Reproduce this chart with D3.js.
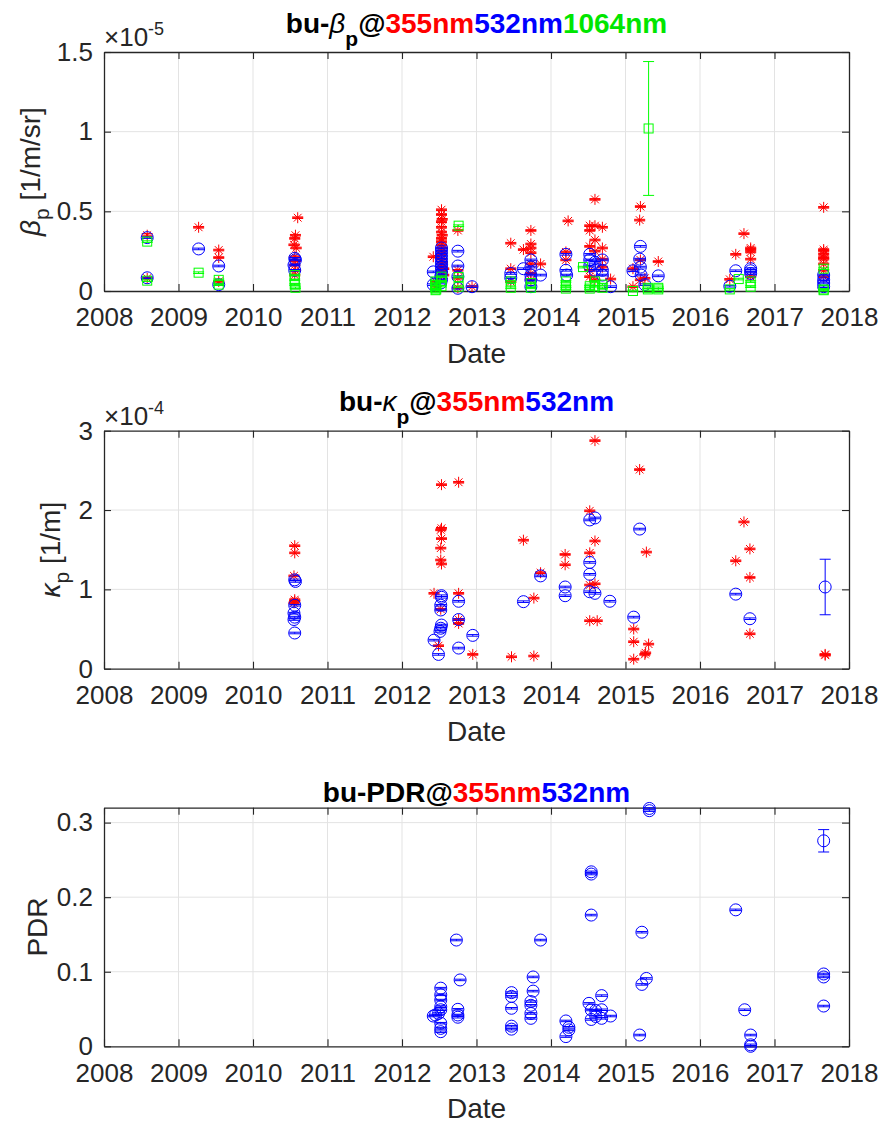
<!DOCTYPE html>
<html>
<head>
<meta charset="utf-8">
<script src="https://cdn.jsdelivr.net/npm/d3@7"></script>
<style>
  body { margin: 0; background: #fff; }
  svg { display: block; }
  text { font-family: Arial, "Liberation Sans", Helvetica, sans-serif; }
</style>
</head>
<body>
<svg id="fig" width="881" height="1126"></svg>
<script>
// ---- x axis (decimal years) ----
const yearTicks = [2008, 2009, 2010, 2011, 2012, 2013, 2014, 2015, 2016, 2017, 2018];

// ---- backscatter coefficient β_p, units of 1e-5 1/m/sr : [year, value, half error] ----
const beta355 = [
  [2008.58,0.35,0.01],[2008.58,0.08,0.005],
  [2009.27,0.40,0.005],
  [2009.54,0.257,0.005],[2009.54,0.21,0.005],[2009.54,0.06,0.005],
  [2010.60,0.46,0.005],[2010.57,0.35,0.005],[2010.56,0.33,0.005],[2010.55,0.29,0.005],[2010.58,0.27,0.005],
  [2010.56,0.215,0.005],[2010.57,0.19,0.005],[2010.56,0.163,0.005],[2010.57,0.13,0.005],[2010.56,0.10,0.005],
  [2012.42,0.215,0.005],[2012.45,0.06,0.005],[2012.45,0.03,0.005],
  [2012.53,0.51,0.005],[2012.53,0.48,0.005],[2012.54,0.45,0.005],[2012.53,0.435,0.005],[2012.53,0.40,0.005],
  [2012.53,0.37,0.005],[2012.54,0.35,0.005],[2012.53,0.33,0.005],[2012.53,0.31,0.005],[2012.53,0.29,0.005],
  [2012.54,0.27,0.005],[2012.53,0.25,0.005],[2012.53,0.23,0.005],[2012.53,0.20,0.005],[2012.54,0.18,0.005],
  [2012.53,0.15,0.005],[2012.53,0.12,0.005],[2012.53,0.09,0.005],[2012.56,0.14,0.005],[2012.56,0.10,0.005],
  [2012.75,0.38,0.005],[2012.75,0.13,0.005],[2012.75,0.08,0.005],[2012.75,0.02,0.005],
  [2012.94,0.027,0.005],
  [2013.46,0.30,0.005],[2013.46,0.14,0.005],[2013.46,0.058,0.005],
  [2013.63,0.26,0.005],
  [2013.73,0.38,0.005],[2013.73,0.295,0.005],[2013.73,0.27,0.005],[2013.73,0.24,0.005],[2013.73,0.17,0.005],
  [2013.73,0.11,0.005],[2013.73,0.07,0.005],
  [2013.86,0.17,0.005],
  [2014.20,0.245,0.005],[2014.20,0.195,0.005],[2014.23,0.44,0.005],
  [2014.52,0.41,0.005],[2014.52,0.38,0.005],[2014.52,0.28,0.005],[2014.52,0.13,0.005],[2014.52,0.09,0.005],
  [2014.59,0.575,0.005],[2014.59,0.41,0.005],[2014.59,0.32,0.005],[2014.59,0.25,0.005],[2014.59,0.07,0.005],
  [2014.69,0.40,0.005],[2014.69,0.27,0.005],[2014.69,0.20,0.005],[2014.69,0.15,0.005],
  [2014.80,0.075,0.005],
  [2015.10,0.14,0.005],[2015.10,0.027,0.005],
  [2015.20,0.53,0.005],[2015.19,0.445,0.005],[2015.20,0.195,0.005],[2015.20,0.07,0.005],
  [2015.26,0.08,0.005],[2015.44,0.185,0.005],
  [2016.40,0.073,0.005],[2016.48,0.23,0.005],[2016.59,0.36,0.005],
  [2016.68,0.27,0.005],[2016.68,0.26,0.005],[2016.68,0.245,0.005],[2016.68,0.20,0.005],[2016.68,0.09,0.005],
  [2017.66,0.525,0.005],[2017.66,0.26,0.005],[2017.66,0.25,0.005],[2017.66,0.23,0.005],[2017.66,0.21,0.005],
  [2017.66,0.20,0.005],[2017.66,0.17,0.005],[2017.66,0.13,0.005],[2017.66,0.09,0.005]
];
const beta532 = [
  [2008.58,0.335,0.005],[2008.58,0.083,0.005],
  [2009.27,0.264,0.005],
  [2009.54,0.157,0.005],[2009.54,0.04,0.005],
  [2010.56,0.205,0.005],[2010.57,0.195,0.005],[2010.55,0.163,0.005],[2010.56,0.13,0.005],
  [2012.42,0.12,0.005],[2012.42,0.04,0.005],
  [2012.53,0.27,0.005],[2012.53,0.25,0.005],[2012.53,0.23,0.005],[2012.53,0.21,0.005],[2012.53,0.19,0.005],
  [2012.53,0.17,0.005],[2012.53,0.15,0.005],[2012.53,0.13,0.005],[2012.53,0.11,0.005],[2012.52,0.09,0.005],
  [2012.53,0.07,0.005],[2012.52,0.05,0.005],
  [2012.75,0.25,0.005],[2012.75,0.157,0.005],[2012.75,0.09,0.005],[2012.75,0.017,0.005],
  [2012.94,0.027,0.005],
  [2013.46,0.11,0.005],[2013.46,0.083,0.005],
  [2013.63,0.14,0.005],
  [2013.73,0.195,0.005],[2013.73,0.15,0.005],[2013.73,0.10,0.005],[2013.73,0.07,0.005],[2013.73,0.027,0.005],
  [2013.86,0.10,0.005],
  [2014.20,0.23,0.005],[2014.20,0.13,0.005],[2014.21,0.10,0.005],
  [2014.52,0.23,0.005],[2014.52,0.195,0.005],[2014.52,0.157,0.005],
  [2014.59,0.18,0.005],[2014.59,0.13,0.005],
  [2014.69,0.195,0.005],[2014.69,0.13,0.005],[2014.69,0.10,0.005],
  [2014.80,0.027,0.005],
  [2015.10,0.127,0.005],
  [2015.20,0.28,0.005],[2015.19,0.20,0.005],[2015.20,0.15,0.005],[2015.21,0.10,0.005],
  [2015.26,0.04,0.005],[2015.44,0.095,0.005],
  [2016.40,0.03,0.005],[2016.48,0.127,0.005],
  [2016.68,0.14,0.005],[2016.68,0.127,0.005],[2016.68,0.11,0.005],
  [2017.66,0.10,0.005],[2017.66,0.07,0.005],[2017.66,0.05,0.005],[2017.66,0.027,0.005]
];
const beta1064 = [
  [2008.58,0.31,0.005],[2008.58,0.065,0.005],
  [2009.27,0.115,0.005],
  [2009.54,0.07,0.005],[2009.54,0.04,0.005],
  [2010.56,0.10,0.005],[2010.56,0.07,0.005],[2010.56,0.04,0.005],[2010.57,0.02,0.005],
  [2012.45,0.06,0.005],[2012.45,0.04,0.005],[2012.45,0.02,0.005],[2012.46,0.01,0.005],[2012.45,0.005,0.005],
  [2012.53,0.09,0.005],[2012.53,0.06,0.005],[2012.53,0.03,0.005],
  [2012.76,0.41,0.005],[2012.76,0.088,0.005],[2012.76,0.027,0.005],
  [2013.46,0.06,0.005],[2013.46,0.02,0.005],
  [2013.73,0.05,0.005],[2013.73,0.02,0.005],
  [2014.20,0.06,0.005],[2014.20,0.03,0.005],[2014.20,0.015,0.005],
  [2014.43,0.15,0.005],
  [2014.52,0.03,0.005],[2014.52,0.015,0.005],
  [2014.59,0.06,0.005],[2014.59,0.03,0.005],
  [2014.69,0.04,0.005],[2014.69,0.02,0.005],
  [2015.10,0.0,0.005],
  [2015.31,1.02,0.42],
  [2015.30,0.02,0.005],[2015.30,0.01,0.005],
  [2015.44,0.02,0.005],[2015.44,0.01,0.005],
  [2016.40,0.01,0.005],[2016.52,0.075,0.005],
  [2016.68,0.06,0.005],[2016.68,0.027,0.005],
  [2017.66,0.14,0.005],[2017.66,0.01,0.005],[2017.66,0.005,0.005]
];

// ---- extinction coefficient κ_p, units of 1e-4 1/m ----
const kappa355 = [
  [2010.56,1.55,0.01],[2010.56,1.46,0.01],[2010.55,1.17,0.01],[2010.56,0.87,0.01],[2010.56,0.85,0.01],[2010.55,0.83,0.01],
  [2012.43,0.95,0.01],[2012.49,0.29,0.01],
  [2012.53,2.32,0.01],[2012.53,1.77,0.01],[2012.52,1.75,0.01],[2012.53,1.64,0.01],[2012.52,1.52,0.01],
  [2012.52,1.37,0.01],[2012.53,1.32,0.01],[2012.52,0.75,0.01],
  [2012.76,2.35,0.01],[2012.76,0.95,0.01],[2012.76,0.62,0.01],[2012.76,0.57,0.01],
  [2012.95,0.18,0.01],[2013.47,0.15,0.01],[2013.63,1.62,0.01],
  [2013.77,0.89,0.01],[2013.77,0.16,0.01],[2013.86,1.21,0.01],
  [2014.19,1.44,0.01],[2014.19,1.31,0.01],
  [2014.52,1.99,0.01],[2014.52,1.46,0.01],[2014.52,1.055,0.01],[2014.52,0.605,0.01],
  [2014.59,2.875,0.01],[2014.59,1.61,0.01],[2014.59,1.07,0.01],[2014.62,0.605,0.01],
  [2015.11,0.50,0.01],[2015.11,0.34,0.01],[2015.11,0.12,0.01],
  [2015.19,2.51,0.01],[2015.26,0.18,0.01],[2015.28,1.47,0.01],[2015.31,0.31,0.01],[2015.27,0.20,0.01],
  [2016.48,1.36,0.01],[2016.59,1.85,0.01],
  [2016.67,1.51,0.01],[2016.67,1.15,0.01],[2016.67,0.44,0.01],
  [2017.68,0.18,0.01],[2017.68,0.17,0.01]
];
const kappa532 = [
  [2010.56,1.12,0.01],[2010.57,1.10,0.01],[2010.56,0.80,0.01],[2010.55,0.70,0.01],[2010.56,0.65,0.01],
  [2010.55,0.62,0.01],[2010.56,0.45,0.01],
  [2012.43,0.36,0.01],[2012.49,0.18,0.01],
  [2012.53,0.92,0.01],[2012.53,0.90,0.01],[2012.52,0.80,0.01],[2012.52,0.74,0.01],[2012.53,0.55,0.01],
  [2012.52,0.51,0.01],[2012.51,0.47,0.01],
  [2012.76,0.85,0.01],[2012.76,0.62,0.01],[2012.76,0.26,0.01],
  [2012.95,0.42,0.01],[2013.63,0.845,0.01],[2013.86,1.17,0.01],
  [2014.19,1.03,0.01],[2014.19,0.92,0.01],
  [2014.52,1.875,0.01],[2014.52,1.34,0.01],[2014.52,1.19,0.01],[2014.52,0.97,0.01],
  [2014.59,1.90,0.01],[2014.59,0.95,0.01],
  [2014.79,0.85,0.01],[2015.11,0.65,0.01],[2015.19,1.76,0.01],
  [2016.48,0.94,0.01],[2016.67,0.63,0.01],
  [2017.68,1.03,0.35]
];

// ---- particle depolarisation ratio ----
const pdr532 = [
  [2012.42,0.0406,0.001],[2012.45,0.042,0.001],[2012.49,0.044,0.001],
  [2012.52,0.078,0.001],[2012.52,0.069,0.001],[2012.52,0.062,0.001],[2012.52,0.053,0.001],
  [2012.52,0.049,0.001],[2012.52,0.031,0.001],[2012.52,0.024,0.001],[2012.52,0.0196,0.001],
  [2012.73,0.1425,0.001],[2012.75,0.0496,0.001],[2012.75,0.042,0.001],[2012.75,0.039,0.001],[2012.78,0.089,0.001],
  [2013.47,0.072,0.001],[2013.47,0.067,0.001],[2013.47,0.051,0.001],[2013.47,0.027,0.001],[2013.47,0.023,0.001],
  [2013.76,0.074,0.001],[2013.73,0.06,0.001],[2013.73,0.055,0.001],[2013.73,0.044,0.001],[2013.73,0.0375,0.001],
  [2013.76,0.093,0.001],[2013.86,0.1425,0.001],
  [2014.20,0.034,0.001],[2014.20,0.013,0.001],[2014.24,0.0255,0.001],[2014.24,0.022,0.001],
  [2014.54,0.234,0.001],[2014.54,0.231,0.001],[2014.54,0.176,0.001],[2014.54,0.0487,0.001],[2014.54,0.036,0.001],
  [2014.51,0.0576,0.001],[2014.60,0.048,0.001],[2014.60,0.04,0.001],
  [2014.68,0.068,0.001],[2014.68,0.049,0.001],[2014.68,0.0375,0.001],[2014.80,0.0406,0.001],
  [2015.19,0.0151,0.001],[2015.22,0.153,0.001],[2015.22,0.083,0.001],[2015.28,0.091,0.001],
  [2015.32,0.319,0.001],[2015.32,0.316,0.001],
  [2016.48,0.183,0.001],[2016.60,0.049,0.001],
  [2016.68,0.0151,0.001],[2016.68,0.002,0.001],[2016.68,0.0,0.001],
  [2017.66,0.2756,0.015],[2017.66,0.097,0.001],[2017.66,0.093,0.001],[2017.66,0.054,0.001]
];

// ---- y ticks per panel ----
const betaTicks = [0, 0.5, 1, 1.5];
const kappaTicks = [0, 1, 2, 3];
const pdrTicks = [0, 0.1, 0.2, 0.3];

const RED = "#ff0000", BLUE = "#0000ff", GREEN = "#00ff00";
const AXIS = "#262626", GRID = "#e3e3e3";

const svg = d3.select("#fig");
const x = d3.scaleLinear().domain([2008, 2018]).range([104, 849]);

function marker(g, type, cx, cy, color) {
  if (type === "o") {
    g.append("circle").attr("cx", cx).attr("cy", cy).attr("r", 6)
      .attr("fill", "none").attr("stroke", color).attr("stroke-width", 1);
  } else if (type === "s") {
    g.append("rect").attr("x", cx - 4.5).attr("y", cy - 4.5).attr("width", 9).attr("height", 9)
      .attr("fill", "none").attr("stroke", color).attr("stroke-width", 1);
  } else {
    const r = 5.5, d = 3.9;
    const p = `M${cx - r},${cy}H${cx + r}M${cx},${cy - r}V${cy + r}` +
      `M${cx - d},${cy - d}L${cx + d},${cy + d}M${cx - d},${cy + d}L${cx + d},${cy - d}`;
    g.append("path").attr("d", p).attr("fill", "none").attr("stroke", color).attr("stroke-width", 1);
  }
}

function errorbar(g, data, y, type, color) {
  data.forEach(([t, v, e]) => {
    const cx = x(t), y0 = y(v - e), y1 = y(v + e), w = 5.5;
    g.append("path")
      .attr("d", `M${cx},${y0}V${y1}M${cx - w},${y0}H${cx + w}M${cx - w},${y1}H${cx + w}`)
      .attr("fill", "none").attr("stroke", color).attr("stroke-width", 1);
    marker(g, type, cx, y(v), color);
  });
}

function panel(cfg) {
  const y = d3.scaleLinear().domain(cfg.domain).range([cfg.bottom, cfg.top]);
  const g = svg.append("g");

  // grid
  g.append("g").selectAll("line").data(yearTicks.slice(1, -1)).join("line")
    .attr("x1", d => x(d)).attr("x2", d => x(d)).attr("y1", cfg.top).attr("y2", cfg.bottom)
    .attr("stroke", GRID).attr("stroke-width", 1);
  g.append("g").selectAll("line").data(cfg.ticks.filter(d => d > cfg.domain[0] && d < cfg.domain[1])).join("line")
    .attr("x1", 104).attr("x2", 849).attr("y1", d => y(d)).attr("y2", d => y(d))
    .attr("stroke", GRID).attr("stroke-width", 1);

  // axes with inward ticks on all four sides
  const tickLen = 7;
  const bottomAx = d3.axisBottom(x).tickValues(yearTicks).tickFormat(d3.format("d"))
    .tickSizeInner(-tickLen).tickSizeOuter(0).tickPadding(17);
  const ab = g.append("g").attr("transform", `translate(0,${cfg.bottom})`).call(bottomAx);
  const topAx = d3.axisTop(x).tickValues(yearTicks).tickFormat("").tickSizeInner(-tickLen).tickSizeOuter(0);
  const at = g.append("g").attr("transform", `translate(0,${cfg.top})`).call(topAx);
  const leftAx = d3.axisLeft(y).tickValues(cfg.ticks).tickFormat(cfg.fmt)
    .tickSizeInner(-tickLen).tickSizeOuter(0).tickPadding(11);
  const al = g.append("g").attr("transform", `translate(104,0)`).call(leftAx);
  const rightAx = d3.axisRight(y).tickValues(cfg.ticks).tickFormat("").tickSizeInner(-tickLen).tickSizeOuter(0);
  const ar = g.append("g").attr("transform", `translate(849,0)`).call(rightAx);
  [ab, at, al, ar].forEach(a => {
    a.select(".domain").attr("stroke", AXIS).attr("stroke-width", 1.3);
    a.selectAll(".tick line").attr("stroke", AXIS).attr("stroke-width", 1.1);
    a.selectAll(".tick text").attr("fill", AXIS).style("font-size", "26px")
      .style("font-family", "Arial, 'Liberation Sans', Helvetica, sans-serif");
  });
  ab.selectAll(".tick text").attr("dy", "0.71em");

  // data
  const dg = g.append("g");
  cfg.series.forEach(s => errorbar(dg, s.data, y, s.type, s.color));

  // x label
  g.append("text").attr("x", 476.5).attr("y", cfg.bottom + 72).attr("text-anchor", "middle")
    .attr("fill", AXIS).style("font-size", "28px").text("Date");

  // y label
  const yl = g.append("text")
    .attr("transform", `translate(${cfg.ylabelX},${(cfg.top + cfg.bottom) / 2}) rotate(-90)`)
    .attr("text-anchor", "middle").attr("fill", AXIS).style("font-size", "28px");
  cfg.ylabel(yl);

  // exponent
  if (cfg.exponent) {
    const ex = g.append("text").attr("x", 104).attr("y", cfg.top - 6).attr("fill", AXIS).style("font-size", "26px");
    ex.append("tspan").text("\u00d710");
    ex.append("tspan").attr("dy", -11).style("font-size", "18px").text(cfg.exponent);
  }

  // title
  const tt = g.append("text").attr("x", 476.5).attr("y", cfg.titleY).attr("text-anchor", "middle")
    .style("font-size", "28px").style("font-weight", "bold").attr("fill", "#000");
  cfg.title(tt);
}

function titleParts(t, sym, colorsText) {
  t.append("tspan").text("bu-");
  if (sym) {
    t.append("tspan").style("font-style", "italic").style("font-weight", "normal").text(sym);
    t.append("tspan").attr("dy", 13).style("font-size", "21px").text("p");
    t.append("tspan").attr("dy", -13).text("@");
  } else {
    t.append("tspan").text("PDR@");
  }
  colorsText.forEach(([s, c]) => t.append("tspan").attr("fill", c).text(s));
}

panel({
  top: 52, bottom: 291, domain: [0, 1.5], ticks: betaTicks, fmt: d => (d === 0 ? "0" : d === 1 ? "1" : d3.format(".1f")(d)),
  series: [
    { data: beta355, type: "*", color: RED },
    { data: beta532, type: "o", color: BLUE },
    { data: beta1064, type: "s", color: GREEN }
  ],
  ylabelX: 40, exponent: "-5", titleY: 33,
  ylabel: t => {
    t.append("tspan").style("font-style", "italic").text("\u03b2");
    t.append("tspan").attr("dy", 9).style("font-size", "21px").text("p");
    t.append("tspan").attr("dy", -9).text(" [1/m/sr]");
  },
  title: t => titleParts(t, "\u03b2", [["355nm", RED], ["532nm", BLUE], ["1064nm", "#00e600"]])
});

panel({
  top: 430.7, bottom: 668.7, domain: [0, 3], ticks: kappaTicks, fmt: d3.format("d"),
  series: [
    { data: kappa355, type: "*", color: RED },
    { data: kappa532, type: "o", color: BLUE }
  ],
  ylabelX: 60, exponent: "-4", titleY: 411,
  ylabel: t => {
    t.append("tspan").style("font-style", "italic").text("\u03ba");
    t.append("tspan").attr("dy", 9).style("font-size", "21px").text("p");
    t.append("tspan").attr("dy", -9).text(" [1/m]");
  },
  title: t => titleParts(t, "\u03ba", [["355nm", RED], ["532nm", BLUE]])
});

panel({
  top: 807.7, bottom: 1046.3, domain: [0, 0.32], ticks: pdrTicks, fmt: d => (d === 0 ? "0" : d3.format(".1f")(d)),
  series: [
    { data: pdr532, type: "o", color: BLUE }
  ],
  ylabelX: 47, exponent: null, titleY: 802,
  ylabel: t => t.text("PDR"),
  title: t => titleParts(t, null, [["355nm", RED], ["532nm", BLUE]])
});
</script>
</body>
</html>
